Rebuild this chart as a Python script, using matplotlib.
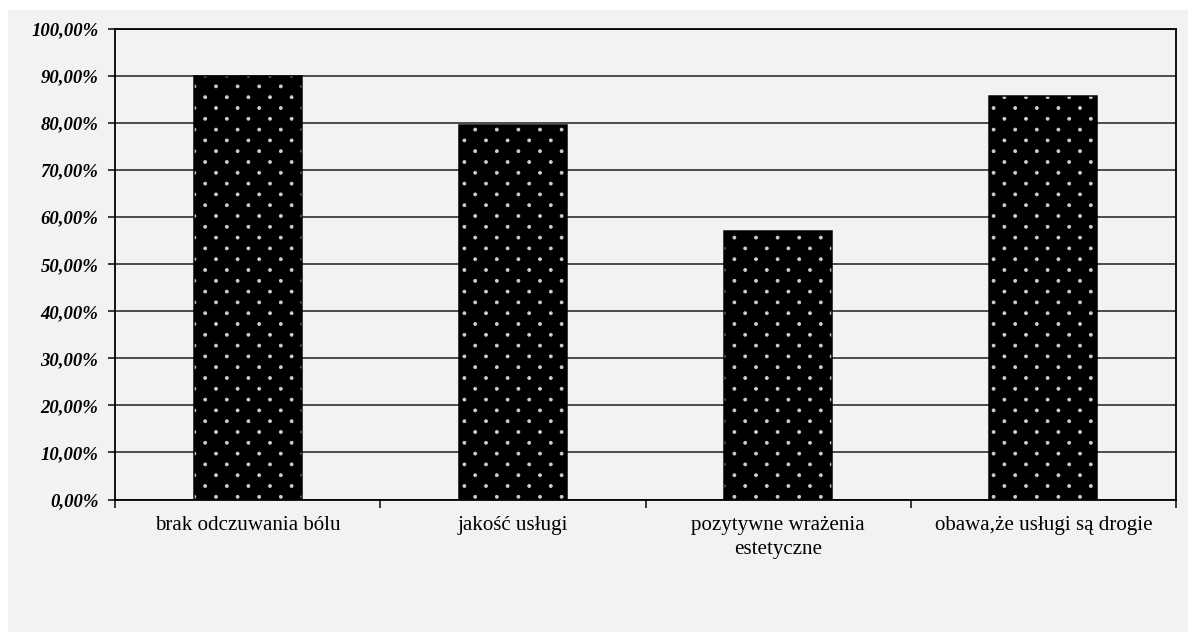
import numpy as np
import matplotlib
matplotlib.use("Agg")
import matplotlib.pyplot as plt
import matplotlib.hatch as mhatch
from matplotlib.path import Path
from matplotlib.patches import Rectangle
from matplotlib.ticker import MultipleLocator, FuncFormatter, FixedLocator

categories = ["brak odczuwania bólu", "jakość usługi",
              "pozytywne wrażenia\nestetyczne", "obawa,że usługi są drogie"]
values = [90.0, 79.5, 57.0, 85.8]


class StaggeredDots(mhatch.HatchPatternBase):
    """Small filled dots on a staggered lattice (rows at half the column pitch)."""

    def __init__(self, hatch, density):
        self.ncols = 5 * hatch.count('.')
        self.nrows = 2 * self.ncols
        circle = Path.unit_circle()
        self.shape_vertices = circle.vertices
        self.shape_codes = circle.codes
        self.radius = 0.014
        centers = []
        if self.ncols:
            for i in range(self.nrows + 1):
                y = i / self.nrows
                if i % 2 == 0:
                    xs = np.arange(self.ncols + 1) / self.ncols
                else:
                    xs = (np.arange(self.ncols) + 0.5) / self.ncols
                centers.extend((x, y) for x in xs)
        self.centers = centers
        self.num_vertices = len(centers) * len(self.shape_vertices)

    def set_vertices_and_codes(self, vertices, codes):
        n = len(self.shape_vertices)
        for k, (cx, cy) in enumerate(self.centers):
            vertices[k * n:(k + 1) * n] = self.shape_vertices * self.radius + (cx, cy)
            codes[k * n:(k + 1) * n] = self.shape_codes


mhatch._hatch_types = [h for h in mhatch._hatch_types
                       if h is not mhatch.SmallFilledCircles] + [StaggeredDots]

DPI = 108
W, H = 1188, 632
BG = "#f2f2f2"

plt.rcParams["font.family"] = ["Liberation Serif", "DejaVu Serif"]
plt.rcParams["hatch.linewidth"] = 0.5

fig = plt.figure(figsize=(W / DPI, H / DPI), dpi=DPI, facecolor="white")
fig.patches.append(Rectangle((8 / W, 0), 1 - 8 / W, (H - 10) / H,
                             transform=fig.transFigure, facecolor=BG,
                             edgecolor="none", zorder=-10))

ax = fig.add_axes([115 / W, (H - 499.5) / H, (1176 - 115) / W, (499.5 - 29) / H])
ax.set_facecolor(BG)

x = np.arange(len(categories))
ax.bar(x, values, width=0.407, color="black", edgecolor="#d0d0d0",
       linewidth=0, hatch=".", zorder=3)
ax.bar(x, values, width=0.407, fill=False, edgecolor="black",
       linewidth=1.0, zorder=4)

ax.set_xlim(-0.5, len(categories) - 0.5)
ax.set_ylim(0, 100)

ax.yaxis.set_major_locator(MultipleLocator(10))
ax.yaxis.set_major_formatter(FuncFormatter(lambda v, p: f"{v:.2f}%".replace(".", ",")))
ax.grid(axis="y", color="#1a1a1a", linewidth=1.0, zorder=1)
ax.set_axisbelow(True)

ax.set_xticks(x)
ax.set_xticklabels(categories, fontsize=14, linespacing=1.35)
ax.xaxis.set_minor_locator(FixedLocator(np.arange(-0.5, len(categories), 1.0)))
ax.tick_params(axis="x", which="major", length=0, pad=11)
ax.tick_params(axis="x", which="minor", length=5, width=1.0, color="black")
ax.tick_params(axis="y", which="major", length=5, width=1.0, pad=6)
for lbl in ax.get_yticklabels():
    lbl.set_fontsize(12.5)
    lbl.set_fontweight("bold")
    lbl.set_fontstyle("italic")

for side in ["left", "bottom", "right", "top"]:
    ax.spines[side].set_color("black")
    ax.spines[side].set_linewidth(1.2)

fig.savefig("out.png", dpi=DPI, facecolor="white")
